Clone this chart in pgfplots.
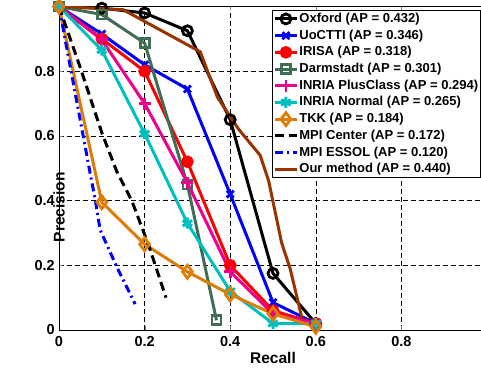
\documentclass[border=0pt]{standalone}
\usepackage{fontspec}
\setmainfont{Liberation Sans}
\usepackage{pgfplots}
\pgfplotsset{compat=1.18}
\definecolor{darm}{rgb}{0.25,0.43,0.33}
\definecolor{tkk}{rgb}{0.87,0.49,0.02}
\definecolor{brownc}{rgb}{0.6,0.2,0.0}
\definecolor{cyanc}{rgb}{0.0,0.75,0.75}
\begin{document}
\begin{tikzpicture}
\begin{axis}[
  scale only axis,
  width=428pt, height=323.5pt,
  xmin=0, xmax=1, ymin=0, ymax=1,
  xtick={0,0.2,0.4,0.6,0.8,1},
  xticklabels={0,0.2,0.4,0.6,0.8,{}},
  ytick={0,0.2,0.4,0.6,0.8},
  yticklabels={0,0.2,0.4,0.6,0.8},
  /pgf/number format/assume math mode=true,
  tick label style={font=\fontsize{14.5}{16}\selectfont\bfseries},
  xticklabel style={anchor=north, inner sep=0pt, yshift=-6pt},
  yticklabel style={anchor=east, inner sep=0pt, xshift=-4pt},
  tick align=inside,
  major tick length=4pt,
  xmajorgrids, ymajorgrids,
  grid style={black, line width=0.6pt, dash pattern=on 5pt off 3pt},
  axis line style={black, line width=1pt},
  xlabel={Recall},
  ylabel={Precision},
  label style={font=\fontsize{15.5}{17}\selectfont\bfseries},
  xlabel style={at={(axis description cs:0.5,0)}, anchor=north, inner sep=0pt, yshift=-22pt},
  ylabel style={at={(axis description cs:0,0.5)}, anchor=center, rotate=0, inner sep=0pt, xshift=-39pt},
  legend style={at={(0.4977,0.989)}, anchor=north west, draw=black, line width=0.8pt,
    font=\fontsize{13}{15}\selectfont\bfseries, inner sep=1pt, row sep=1.7pt,
    nodes={inner sep=1pt, text height=10pt, text depth=3pt}, legend cell align=left},
  legend image code/.code={\draw[#1, mark repeat=2, mark phase=2] plot coordinates {(0pt,0pt) (11pt,0pt) (22pt,0pt)};},
  every axis plot/.append style={line width=3pt},
]
\coordinate (o) at (axis cs:0,0);
\addplot[black, mark=o, mark size=5pt, mark options={solid, line width=2.8pt}] coordinates {(0,1)(0.1,0.995)(0.2,0.98)(0.3,0.925)(0.4,0.65)(0.5,0.175)(0.6,0.02)};
\addlegendentry{Oxford (AP = 0.432)}
\addplot[blue, mark=x, mark size=5pt, mark options={solid, line width=2.8pt}] coordinates {(0,1)(0.1,0.915)(0.2,0.82)(0.3,0.745)(0.4,0.42)(0.5,0.085)(0.6,0.02)};
\addlegendentry{UoCTTI (AP = 0.346)}
\addplot[red, mark=*, mark size=4.8pt, mark options={solid, fill=red}] coordinates {(0,1)(0.1,0.9)(0.2,0.8)(0.3,0.52)(0.4,0.2)(0.5,0.06)(0.6,0.02)};
\addlegendentry{IRISA (AP = 0.318)}
\addplot[darm, mark=square, mark size=4.5pt, mark options={solid, line width=2.8pt}] coordinates {(0,1)(0.1,0.975)(0.2,0.887)(0.3,0.45)(0.368,0.03)};
\addlegendentry{Darmstadt (AP = 0.301)}
\addplot[magenta, mark=+, mark size=6pt, mark options={solid, line width=2.8pt}] coordinates {(0,1)(0.1,0.897)(0.2,0.7)(0.3,0.455)(0.4,0.18)(0.5,0.05)(0.6,0.02)};
\addlegendentry{INRIA PlusClass (AP = 0.294)}
\addplot[cyanc, mark=asterisk, mark size=5.5pt, mark options={solid, line width=3pt}] coordinates {(0,1)(0.1,0.865)(0.2,0.607)(0.3,0.33)(0.4,0.12)(0.5,0.02)(0.6,0.02)};
\addlegendentry{INRIA Normal (AP = 0.265)}
\addplot[tkk, mark=diamond, mark size=6.5pt, mark options={solid, line width=2.8pt}] coordinates {(0,1)(0.1,0.395)(0.2,0.265)(0.3,0.18)(0.4,0.11)(0.5,0.05)(0.6,0.01)};
\addlegendentry{TKK (AP = 0.184)}
\addplot[black, dash pattern=on 9pt off 5pt] coordinates {(0,1)(0.05,0.81)(0.1,0.61)(0.135,0.49)(0.17,0.4)(0.21,0.26)(0.25,0.1)};
\addlegendentry{MPI Center (AP = 0.172)}
\addplot[blue, dash pattern=on 8pt off 4pt on 2pt off 4pt] coordinates {(0,1)(0.072,0.49)(0.085,0.4)(0.096,0.31)(0.135,0.195)(0.178,0.08)};
\addlegendentry{MPI ESSOL (AP = 0.120)}
\addplot[brownc] coordinates {(0,1)(0.15,0.99)(0.33,0.86)(0.37,0.72)(0.42,0.62)(0.47,0.54)(0.49,0.46)(0.52,0.27)(0.54,0.19)(0.567,0.04)};
\addlegendentry{Our method (AP = 0.440)}
\end{axis}
\pgfresetboundingbox
\path[use as bounding box] (o) ++(-59pt,-40pt) rectangle ++(481pt,370pt);
\end{tikzpicture}
\end{document}
